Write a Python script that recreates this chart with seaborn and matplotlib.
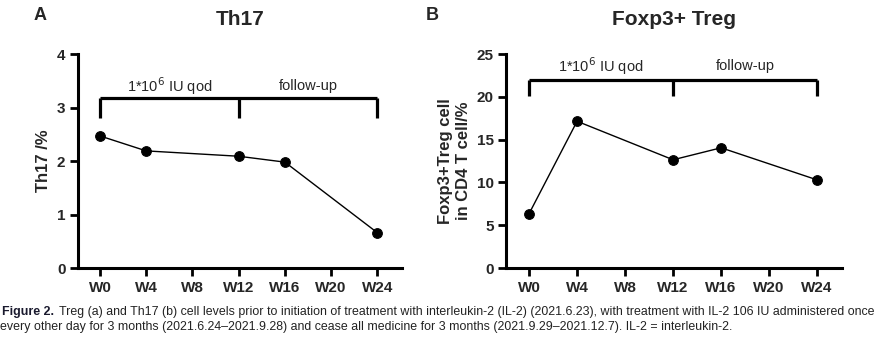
import matplotlib
matplotlib.use("Agg")
import matplotlib.pyplot as plt
import seaborn as sns
import pandas as pd

sns.set_style("white")
plt.rcParams['font.family'] = ['Liberation Sans', 'DejaVu Sans']

# Data
weeks = [0, 4, 12, 16, 24]
tick_weeks = [0, 4, 8, 12, 16, 20, 24]
tick_labels = ["W0", "W4", "W8", "W12", "W16", "W20", "W24"]
th17 = [2.47, 2.19, 2.09, 1.98, 0.66]
treg = [6.35, 17.15, 12.65, 14.05, 10.3]

df_a = pd.DataFrame({"week": weeks, "value": th17})
df_b = pd.DataFrame({"week": weeks, "value": treg})

fig = plt.figure(figsize=(8.82, 3.38), dpi=100)
ax_a = fig.add_axes([0.0884, 0.207, 0.367, 0.633])
ax_b = fig.add_axes([0.574, 0.207, 0.381, 0.633])

def style(ax, df, ymax, yticks, ylabel, title, bracket_y, bracket_drop, text_y):
    sns.lineplot(data=df, x="week", y="value", ax=ax, color="black",
                 linewidth=1.0, marker="o", markersize=7,
                 markeredgecolor="black", markerfacecolor="black")
    ax.set_xlim(-1.9, 26.1)
    ax.set_ylim(0, ymax)
    ax.set_xticks(tick_weeks)
    ax.set_xticklabels(tick_labels, fontweight="bold", fontsize=11)
    ax.set_yticks(yticks)
    ax.set_yticklabels([str(t) for t in yticks], fontweight="bold", fontsize=11)
    ax.set_xlabel("")
    ax.set_ylabel(ylabel, fontweight="bold", fontsize=12, linespacing=1.3)
    for s in ["top", "right"]:
        ax.spines[s].set_visible(False)
    for s in ["left", "bottom"]:
        ax.spines[s].set_linewidth(2.2)
        ax.spines[s].set_color("black")
    ax.tick_params(axis="both", direction="out", length=6, width=2.0,
                   color="black", pad=3, left=True, bottom=True)
    ax.set_title(title, fontweight="bold", fontsize=15, pad=21)
    # bracket
    lw = 2.3
    ax.plot([0, 24], [bracket_y, bracket_y], color="black", lw=lw,
            solid_capstyle="butt", clip_on=False)
    for x in [0, 12, 24]:
        ax.plot([x, x], [bracket_y, bracket_y - bracket_drop], color="black",
                lw=lw, solid_capstyle="butt", clip_on=False)
    ax.text(6, text_y, r"1*10$^{6}$ IU qod", ha="center", va="center", fontsize=10.5)
    ax.text(18, text_y, "follow-up", ha="center", va="center", fontsize=10.5)

style(ax_a, df_a, 4, [0, 1, 2, 3, 4], "Th17 /%", "Th17", 3.18, 0.38, 3.40)
style(ax_b, df_b, 25, [0, 5, 10, 15, 20, 25],
      "Foxp3+Treg cell\nin CD4 T cell/%", "Foxp3+ Treg", 22.0, 1.9, 23.6)

fig.text(0.045, 0.955, "A", fontweight="bold", fontsize=13, ha="center", va="center")
fig.text(0.49, 0.955, "B", fontweight="bold", fontsize=13, ha="center", va="center")

cap1 = ("Treg (a) and Th17 (b) cell levels prior to initiation of treatment with interleukin-2 (IL-2) (2021.6.23), "
        "with treatment with IL-2 106 IU administered once")
cap2 = ("every other day for 3 months (2021.6.24\u20132021.9.28) and cease all medicine for 3 months "
        "(2021.9.29\u20132021.12.7). IL-2 = interleukin-2.")
cap_fs = 8.9
t1 = fig.text(0.002, 1 - 312 / 338, "Figure 2.", fontweight="bold", fontsize=cap_fs,
              color="#1a1a2e", va="center", ha="left")
fig.canvas.draw()
bb = t1.get_window_extent()
x_next = (bb.x1 + 5) / fig.bbox.width
fig.text(x_next, 1 - 312 / 338, cap1, fontsize=cap_fs, color="#222222",
         va="center", ha="left")
fig.text(0.0, 1 - 327 / 338, cap2, fontsize=cap_fs, color="#222222",
         va="center", ha="left")

fig.savefig("out.png", dpi=100)
